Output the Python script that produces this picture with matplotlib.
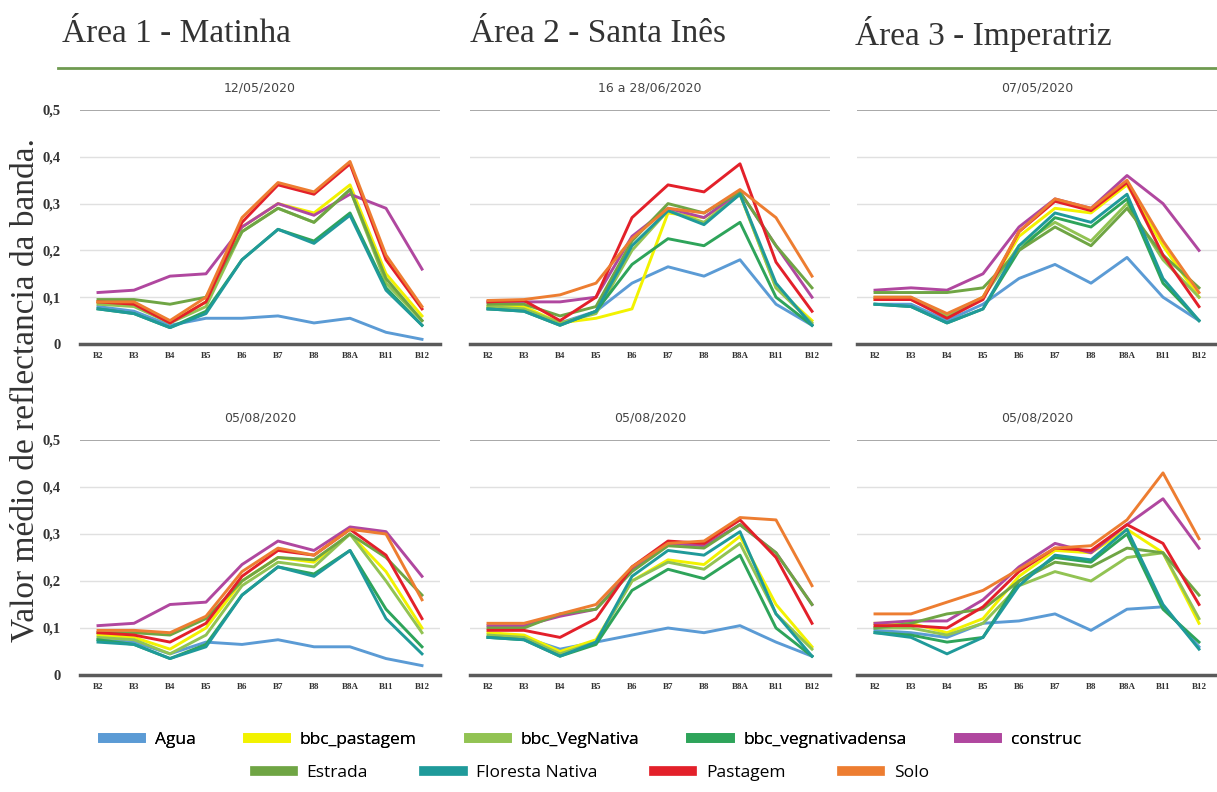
import matplotlib.pyplot as plt
from matplotlib.lines import Line2D

bands = ["B2", "B3", "B4", "B5", "B6", "B7", "B8", "B8A", "B11", "B12"]
classes = ["Agua", "bbc_pastagem", "bbc_VegNativa", "bbc_vegnativadensa", "construc",
           "Estrada", "Floresta Nativa", "Pastagem", "Solo"]
colors = ["#5b9bd5", "#f2f200", "#92c353", "#2ea45a", "#b0479f",
          "#6fa544", "#1f9a9a", "#e3202a", "#ed7d31"]

areas = ["Área 1 - Matinha", "Área 2 - Santa Inês", "Área 3 - Imperatriz"]
dates_top = ["12/05/2020", "16 a 28/06/2020", "07/05/2020"]
dates_bottom = ["05/08/2020", "05/08/2020", "05/08/2020"]

# Área 1 - 12/05/2020
p1 = [
    [0.080, 0.070, 0.040, 0.055, 0.055, 0.060, 0.045, 0.055, 0.025, 0.010],
    [0.090, 0.085, 0.045, 0.090, 0.250, 0.300, 0.280, 0.340, 0.150, 0.060],
    [0.085, 0.080, 0.045, 0.080, 0.240, 0.290, 0.260, 0.330, 0.130, 0.050],
    [0.075, 0.065, 0.035, 0.070, 0.180, 0.245, 0.220, 0.280, 0.120, 0.040],
    [0.110, 0.115, 0.145, 0.150, 0.250, 0.300, 0.275, 0.320, 0.290, 0.160],
    [0.095, 0.095, 0.085, 0.100, 0.240, 0.290, 0.260, 0.330, 0.140, 0.050],
    [0.075, 0.065, 0.035, 0.065, 0.180, 0.245, 0.215, 0.275, 0.115, 0.040],
    [0.090, 0.085, 0.045, 0.090, 0.260, 0.340, 0.320, 0.385, 0.180, 0.075],
    [0.090, 0.090, 0.050, 0.100, 0.270, 0.345, 0.325, 0.390, 0.190, 0.080],
]
# Área 2 - 16 a 28/06/2020
p2 = [
    [0.075, 0.075, 0.045, 0.070, 0.130, 0.165, 0.145, 0.180, 0.085, 0.040],
    [0.080, 0.080, 0.045, 0.055, 0.075, 0.280, 0.270, 0.320, 0.120, 0.050],
    [0.080, 0.075, 0.045, 0.065, 0.200, 0.285, 0.260, 0.320, 0.120, 0.045],
    [0.075, 0.070, 0.040, 0.070, 0.170, 0.225, 0.210, 0.260, 0.100, 0.040],
    [0.090, 0.090, 0.090, 0.100, 0.230, 0.290, 0.270, 0.325, 0.210, 0.100],
    [0.085, 0.085, 0.060, 0.080, 0.220, 0.300, 0.280, 0.325, 0.210, 0.120],
    [0.075, 0.070, 0.040, 0.070, 0.210, 0.285, 0.255, 0.320, 0.130, 0.040],
    [0.090, 0.093, 0.050, 0.100, 0.270, 0.340, 0.325, 0.385, 0.175, 0.070],
    [0.093, 0.095, 0.105, 0.130, 0.225, 0.290, 0.280, 0.330, 0.270, 0.145],
]
# Área 3 - 07/05/2020
p3 = [
    [0.085, 0.085, 0.050, 0.085, 0.140, 0.170, 0.130, 0.185, 0.100, 0.050],
    [0.095, 0.095, 0.060, 0.100, 0.230, 0.290, 0.280, 0.340, 0.210, 0.100],
    [0.100, 0.100, 0.060, 0.100, 0.210, 0.260, 0.220, 0.300, 0.180, 0.100],
    [0.085, 0.080, 0.045, 0.075, 0.200, 0.270, 0.250, 0.310, 0.130, 0.050],
    [0.115, 0.120, 0.115, 0.150, 0.250, 0.310, 0.290, 0.360, 0.300, 0.200],
    [0.110, 0.110, 0.110, 0.120, 0.200, 0.250, 0.210, 0.290, 0.190, 0.120],
    [0.085, 0.080, 0.045, 0.075, 0.210, 0.280, 0.260, 0.320, 0.140, 0.050],
    [0.095, 0.095, 0.055, 0.095, 0.240, 0.305, 0.285, 0.345, 0.190, 0.080],
    [0.100, 0.100, 0.065, 0.100, 0.240, 0.310, 0.290, 0.350, 0.220, 0.110],
]
# Área 1 - 05/08/2020
p4 = [
    [0.075, 0.070, 0.045, 0.070, 0.065, 0.075, 0.060, 0.060, 0.035, 0.020],
    [0.085, 0.080, 0.055, 0.100, 0.200, 0.250, 0.240, 0.300, 0.220, 0.100],
    [0.080, 0.075, 0.045, 0.085, 0.190, 0.240, 0.230, 0.300, 0.200, 0.090],
    [0.075, 0.065, 0.035, 0.065, 0.170, 0.230, 0.215, 0.265, 0.140, 0.060],
    [0.105, 0.110, 0.150, 0.155, 0.235, 0.285, 0.265, 0.315, 0.305, 0.210],
    [0.090, 0.090, 0.085, 0.120, 0.200, 0.250, 0.245, 0.300, 0.250, 0.170],
    [0.070, 0.065, 0.035, 0.060, 0.170, 0.230, 0.210, 0.265, 0.120, 0.045],
    [0.090, 0.085, 0.070, 0.110, 0.210, 0.265, 0.255, 0.310, 0.255, 0.120],
    [0.095, 0.095, 0.090, 0.125, 0.220, 0.270, 0.255, 0.310, 0.300, 0.160],
]
# Área 2 - 05/08/2020
p5 = [
    [0.080, 0.080, 0.055, 0.070, 0.085, 0.100, 0.090, 0.105, 0.070, 0.040],
    [0.090, 0.085, 0.050, 0.075, 0.200, 0.245, 0.235, 0.295, 0.150, 0.060],
    [0.085, 0.080, 0.045, 0.070, 0.200, 0.240, 0.225, 0.280, 0.130, 0.055],
    [0.080, 0.075, 0.040, 0.065, 0.180, 0.225, 0.205, 0.255, 0.100, 0.040],
    [0.105, 0.105, 0.125, 0.140, 0.225, 0.280, 0.275, 0.320, 0.260, 0.150],
    [0.100, 0.100, 0.130, 0.140, 0.220, 0.275, 0.270, 0.320, 0.260, 0.150],
    [0.080, 0.075, 0.040, 0.070, 0.210, 0.265, 0.255, 0.305, 0.130, 0.040],
    [0.095, 0.095, 0.080, 0.120, 0.230, 0.285, 0.280, 0.330, 0.250, 0.110],
    [0.110, 0.110, 0.130, 0.150, 0.230, 0.280, 0.285, 0.335, 0.330, 0.190],
]
# Área 3 - 05/08/2020
p6 = [
    [0.095, 0.090, 0.080, 0.110, 0.115, 0.130, 0.095, 0.140, 0.145, 0.060],
    [0.110, 0.110, 0.090, 0.120, 0.210, 0.265, 0.260, 0.310, 0.260, 0.110],
    [0.100, 0.100, 0.085, 0.110, 0.190, 0.220, 0.200, 0.250, 0.260, 0.120],
    [0.090, 0.085, 0.070, 0.080, 0.200, 0.250, 0.240, 0.300, 0.140, 0.070],
    [0.110, 0.115, 0.115, 0.160, 0.230, 0.280, 0.260, 0.320, 0.375, 0.270],
    [0.100, 0.110, 0.130, 0.140, 0.200, 0.240, 0.230, 0.270, 0.260, 0.170],
    [0.090, 0.080, 0.045, 0.080, 0.190, 0.255, 0.245, 0.310, 0.150, 0.055],
    [0.105, 0.105, 0.100, 0.145, 0.220, 0.270, 0.265, 0.320, 0.280, 0.150],
    [0.130, 0.130, 0.155, 0.180, 0.225, 0.270, 0.275, 0.330, 0.430, 0.290],
]

panels = [[p1, p2, p3], [p4, p5, p6]]
titles = [dates_top, dates_bottom]
yticks = [0, 0.1, 0.2, 0.3, 0.4, 0.5]
ylabels = ["0", "0,1", "0,2", "0,3", "0,4", "0,5"]

W, H = 1217, 792
fig = plt.figure(figsize=(W / 100, H / 100), dpi=100)

lefts = [80, 470, 857]
width = 360
rows = [(110, 344), (440, 675)]

for r in range(2):
    top, bot = rows[r]
    for c in range(3):
        ax = fig.add_axes([lefts[c] / W, 1 - bot / H, width / W, (bot - top) / H])
        x = list(range(len(bands)))
        for k in range(len(classes)):
            ax.plot(x, panels[r][c][k], color=colors[k], lw=2.1, solid_joinstyle="round")
        ax.set_xlim(-0.5, len(bands) - 0.5)
        ax.set_ylim(0, 0.5)
        for v in yticks[1:-1]:
            ax.axhline(v, color="#e0e0e0", lw=1, zorder=0)
        ax.axhline(0.5, color="#a8a8a8", lw=1.4, zorder=0)
        for s in ["top", "right", "left"]:
            ax.spines[s].set_visible(False)
        ax.spines["bottom"].set_color("#5a5a5a")
        ax.spines["bottom"].set_linewidth(2.5)
        ax.set_xticks(x)
        ax.set_xticklabels(bands, fontsize=6.5, fontweight="bold",
                           family="Liberation Serif", color="#333333")
        ax.tick_params(axis="x", length=0, pad=6)
        ax.set_yticks(yticks)
        if c == 0:
            ax.set_yticklabels(ylabels, fontsize=10.5, fontweight="bold",
                               family="Liberation Serif", color="#333333")
        else:
            ax.set_yticklabels([])
        ax.tick_params(axis="y", length=0, pad=14)
        ax.set_title(titles[r][c], fontsize=9, color="#444444", pad=13)

# area headers and green separator
header_x = [62, 470, 855]
for c in range(3):
    fig.text(header_x[c] / W, 1 - 34 / H, areas[c], fontsize=24,
             family="Liberation Serif", color="#333333", va="center", ha="left")
fig.add_artist(Line2D([58 / W, 1.0], [1 - 68 / H, 1 - 68 / H], color="#6f9a50", lw=2))

fig.text(25 / W, 1 - 390 / H, "Valor médio de reflectancia da banda.", rotation=90,
         fontsize=24, family="Liberation Serif", color="#333333", va="center", ha="center")

handles = [Line2D([], [], color=col, lw=7) for col in colors]
leg1 = fig.legend(handles[:5], classes[:5], loc="center", ncol=5,
                  bbox_to_anchor=(592 / W, 1 - 740 / H), frameon=False,
                  handlelength=2.2, columnspacing=3.0,
                  prop={"family": "Open Sans", "size": 12.5})
fig.add_artist(leg1)
fig.legend(handles[5:], classes[5:], loc="center", ncol=4,
           bbox_to_anchor=(592 / W, 1 - 773 / H), frameon=False,
           handlelength=2.2, columnspacing=3.25,
           prop={"family": "Open Sans", "size": 12.5})

fig.savefig("out.png", dpi=100)
